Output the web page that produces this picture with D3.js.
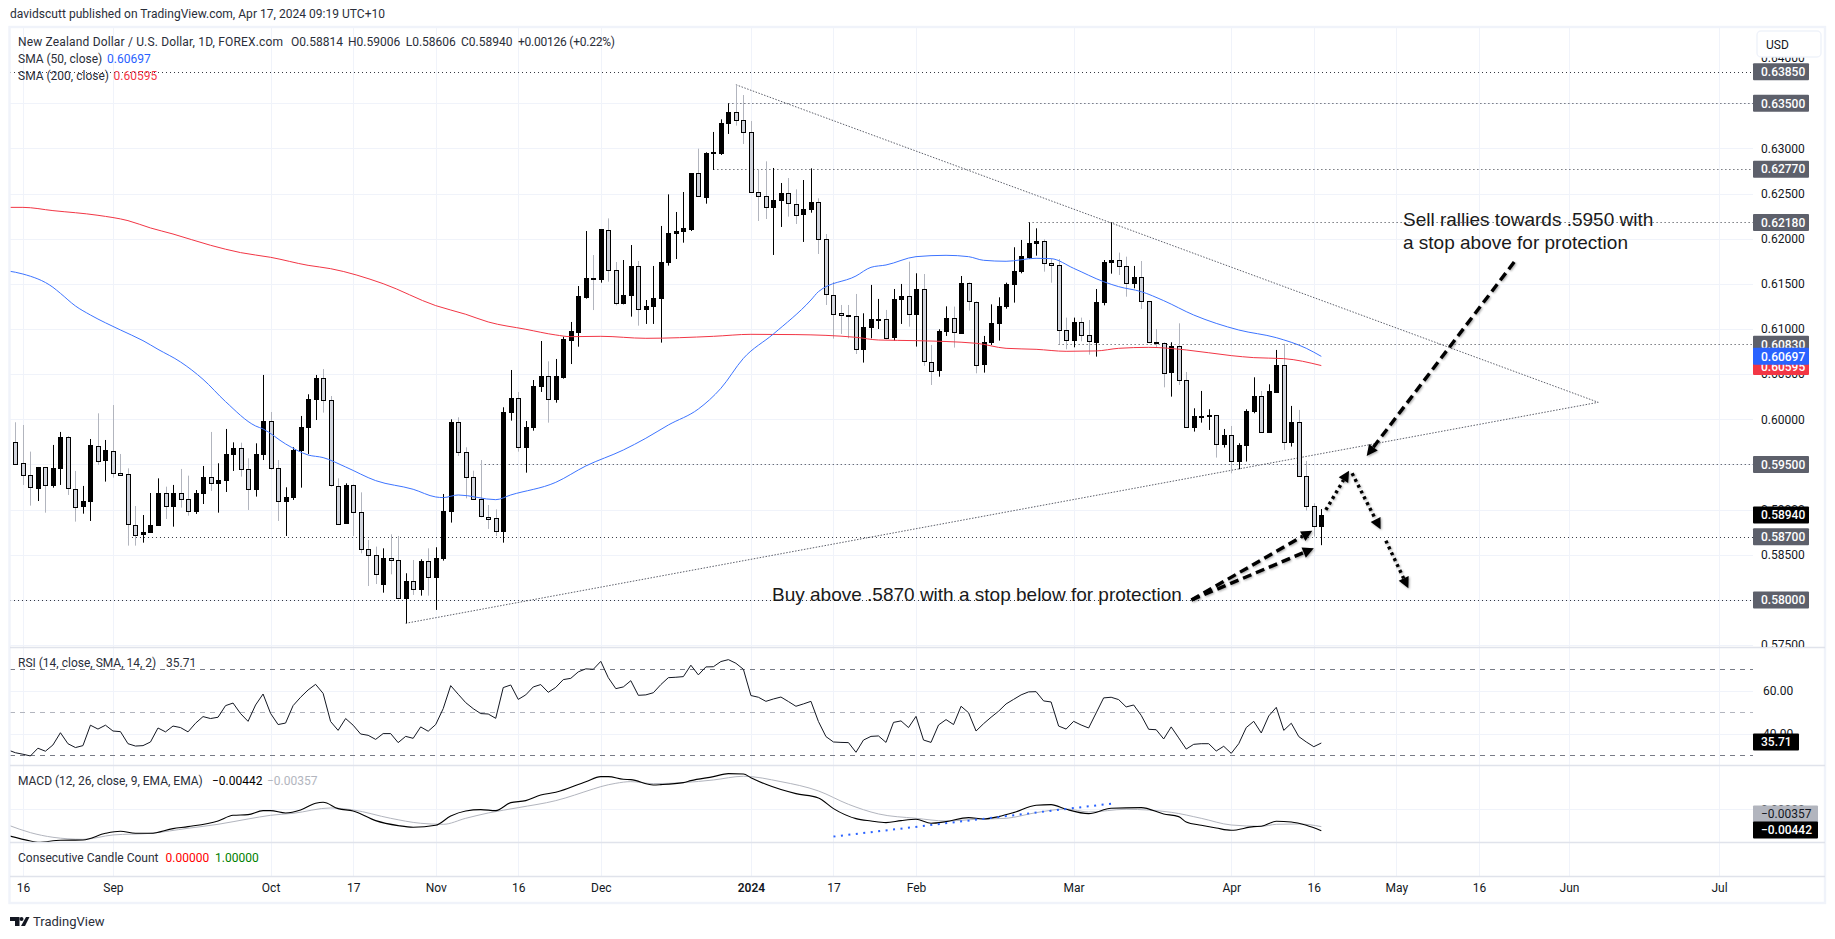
<!DOCTYPE html>
<html><head><meta charset="utf-8">
<script src="https://cdnjs.cloudflare.com/ajax/libs/d3/7.8.5/d3.min.js"></script>
<style>
html,body{margin:0;padding:0;background:#fff;overflow:hidden}
text{font-family:Roboto,"Open Sans",sans-serif;font-size:12px;fill:#131722}
.note{font-family:"Liberation Sans",Arial,sans-serif;font-size:19px;fill:#1a1a1a}
</style></head><body><svg id="c" width="1835" height="939"></svg>
<script>
// Prices are in units of 0.00001
const opens=[59752,59513,59380,59243,59468,59265,59453,59800,59232,59036,59088,59708,59546,59653,59409,59391,58833,58723,58749,58822,59180,59033,59180,59114,58977,59177,59358,59287,59321,59609,59679,59446,59221,59609,59978,59457,59092,59132,59656,59908,60218,60454,60210,59265,58848,59269,58970,58560,58494,58169,58461,58438,58014,58206,58114,58427,58247,58457,58977,59967,59634,59358,59114,58922,58904,58756,60074,60232,59686,59908,60362,60476,60218,60469,60882,60970,61358,61565,61550,62092,61650,61281,61369,61694,61214,61248,61336,61735,62056,62078,62108,62724,62466,62953,62949,63274,63399,63311,63178,62514,62469,62344,62421,62503,62388,62266,62322,62403,61993,61380,61174,61152,61141,60775,61015,61104,61107,60904,61325,61362,61159,61440,60639,60539,60971,61118,60956,61506,61303,60609,60849,61059,61248,61491,61635,61801,61945,61971,61727,61705,60986,60875,61074,60930,60856,61292,61735,61761,61694,61502,61572,61307,60856,60849,60517,60808,60432,59908,60030,60037,60045,59720,59823,59532,59709,60085,60255,59856,60307,60598,59742,59967,59369,59037,58814];
const highs=[59967,59937,59642,59472,59472,59716,59860,59815,59428,59262,59782,60066,59771,60158,59616,59457,59040,58940,59184,59346,59254,59273,59450,59376,59217,59483,59860,59513,59893,59745,59741,59568,59734,60491,60081,59549,59247,59690,60037,60277,60491,60557,60258,59346,59291,59280,59191,58664,58590,58571,58726,58708,58295,58442,58450,58571,58583,59173,60000,60022,59690,59431,59549,59051,59003,60133,60546,60303,59981,60435,60867,60642,60668,60915,61078,61476,62085,61819,62104,62225,61742,61764,61930,61753,61321,61698,62141,62491,62296,62517,62724,62997,62957,63182,63322,63499,63706,63591,63303,62761,62857,62783,62617,62672,62547,62650,62779,62447,62052,61521,61266,61266,61388,61174,61488,61333,61211,61443,61499,61746,61617,61609,60823,60997,61251,61248,61587,61517,61307,60923,61273,61351,61513,61905,61986,62181,62115,61993,61775,61775,61126,61126,61126,61100,61443,61764,62181,61846,61801,61698,61753,61307,61000,60853,60853,61063,60524,60122,60314,60111,60048,59893,59926,59735,60111,60465,60314,60388,60768,60835,60148,60104,59539,59070,59006];
const lows=[59494,59273,59044,59095,58966,59243,59273,59162,58867,58955,58874,59494,59310,59354,59376,58601,58601,58634,58745,58819,58896,58811,59022,58933,58952,59062,59206,58966,59195,59428,59365,58996,59144,59549,59439,58874,58708,59107,59243,59616,59992,60074,59254,58841,58844,58708,58516,58154,58176,58080,58283,58007,57741,58055,58047,58047,57889,58435,58856,59594,59125,59107,58915,58786,58708,58634,59985,59642,59409,59874,60303,59963,60184,60450,60612,60804,61336,61210,61513,61524,61262,61273,61137,61037,61056,61056,60849,61702,61775,61956,62085,62466,62388,62761,62927,63160,63252,63049,62514,62196,62218,61820,62130,62244,62163,61964,62288,61831,61266,60893,60945,60897,60723,60628,60897,61000,60886,60871,61056,61026,60805,60591,60380,60472,60923,60794,60945,61203,60509,60517,60823,60871,61225,61292,61617,61775,61812,61635,61513,60831,60775,60797,60864,60716,60694,61262,61613,61598,61358,61451,61222,60842,60794,60354,60251,60380,59908,59864,59963,59882,59576,59687,59402,59447,59532,60067,59856,59853,60307,59661,59698,59369,58989,58701,58606];
const closes=[59513,59380,59247,59472,59269,59457,59800,59236,59036,59092,59712,59546,59656,59413,59387,58837,58726,58749,58826,59180,59036,59180,59114,58977,59180,59358,59291,59324,59612,59679,59446,59225,59612,59978,59457,59092,59136,59656,59911,60221,60454,60206,59269,58848,59269,58970,58560,58494,58283,58461,58438,58018,58206,58117,58427,58250,58461,58981,59967,59634,59358,59114,58926,58900,58760,60077,60232,59690,59911,60365,60476,60221,60476,60886,60978,61366,61565,61550,62104,61650,61284,61373,61694,61218,61251,61340,61739,62060,62082,62115,62724,62466,62949,62960,63278,63399,63311,63178,62514,62469,62348,62425,62503,62388,62270,62325,62403,61993,61380,61174,61152,61137,60775,61019,61107,61111,60897,61329,61362,61159,61440,60642,60543,60975,61118,60960,61506,61307,60609,60853,61063,61251,61495,61639,61805,61953,61971,61727,61705,60986,60875,61074,60930,60860,61296,61739,61761,61694,61506,61572,61307,60853,60845,60521,60808,60432,59908,60034,60037,60045,59724,59823,59535,59712,60089,60255,59856,60310,60602,59746,59967,59369,59037,58815,58940];
// SMA readings: bar index, price
const sma50Idx=[-1,1,5,6,8,10,14,17,19,22,25,28,32,33,36,39,41,44,48,53,56,57,59,64,66,72,76,81,84,87,91,94,97,101,106,107,112,114,116,120,124,127,129,132,136,138,141,145,147,150,153,157,163,168,172,174];
const sma50Val=[.61643,.61609,.61462,.61395,.61255,.61155,.60989,.60871,.60775,.60635,.60443,.60196,.59926,.59893,.59727,.59605,.59576,.59472,.59321,.59225,.59140,.59133,.59162,.59110,.59162,.59302,.59483,.59660,.59790,.59937,.60114,.60343,.60675,.60945,.61321,.61414,.61587,.61683,.61709,.61801,.61816,.61801,.61761,.61750,.61783,.61779,.61672,.61524,.61469,.61414,.61314,.61155,.60989,.60904,.60786,.60697];
const sma200Idx=[-1,1,5,11,15,18,21,26,30,34,39,42,49,56,60,63,68,72,74,78,84,93,98,104,112,115,120,128,132,136,140,144,147,151,156,162,165,169,174];
const sma200Val=[.62347,.62347,.62311,.62259,.62200,.62119,.62052,.61927,.61846,.61794,.61705,.61668,.61502,.61259,.61163,.61078,.60997,.60934,.60915,.60919,.60897,.60919,.60941,.60938,.60908,.60878,.60871,.60842,.60786,.60775,.60753,.60757,.60786,.60797,.60768,.60705,.60683,.60672,.60595];
// RSI for bars -1..174
const rsiVal=[32.5,31.2,30.5,29.7,33.3,31.9,34.8,40.5,35.4,33.6,34.5,44.0,42.2,44.0,41.3,41.0,35.4,34.3,34.5,36.2,42.7,40.9,43.6,42.9,40.9,44.9,48.0,47.1,47.7,53.1,54.3,49.4,45.8,53.4,58.5,49.5,44.3,45.0,53.1,57.0,60.4,63.0,58.8,45.7,41.6,47.1,44.0,39.9,39.3,37.4,40.1,40.1,35.9,38.8,37.9,43.2,41.2,44.3,51.7,62.4,58.4,54.5,51.7,49.4,49.2,47.2,61.5,62.7,56.0,58.1,61.8,62.9,59.3,61.6,65.2,65.8,68.8,70.2,70.0,73.7,66.1,61.0,61.8,64.7,57.9,58.1,59.1,62.9,66.1,66.3,66.6,71.9,67.4,71.1,71.2,73.6,74.5,72.8,70.0,57.8,57.0,55.1,56.2,57.1,55.0,52.8,53.9,55.1,45.7,38.7,36.2,36.0,35.9,31.4,37.1,38.8,39.0,36.0,45.3,46.0,42.9,48.1,37.1,36.0,44.1,46.6,44.3,52.8,49.8,41.3,44.7,47.7,50.5,53.9,56.0,58.1,59.5,59.6,55.3,54.8,43.6,42.2,45.8,44.1,42.7,49.7,56.7,57.0,55.9,52.5,53.4,48.6,42.1,41.9,37.6,43.2,38.1,32.9,35.1,35.4,35.4,32.0,34.2,30.9,35.4,42.9,45.8,40.4,48.3,52.3,41.6,44.9,38.7,36.2,34.0,35.71];
// MACD readings: bar index, value
const macdIdx=[-1,2,3,6,9,12,14,16,18,21,23,27,29,31,33,34,36,38,40,41,43,45,48,51,53,56,58,60,62,64,66,68,70,72,76,78,79,81,82,85,86,89,90,93,95,97,98,100,104,107,109,112,114,116,118,120,122,124,127,129,131,133,136,138,140,143,146,150,153,155,156,158,160,162,165,166,168,170,172,174];
const macdVal=[-.00544,-.00654,-.00682,-.00640,-.00633,-.00496,-.00454,-.00496,-.00496,-.00399,-.00358,-.00241,-.00124,-.00110,-.00028,-.00028,-.00076,-.00014,.00124,.00145,.00014,-.00034,-.00234,-.00337,-.00372,-.00330,-.00138,-.00034,-.00007,-.00028,.00138,.00179,.00296,.00351,.00571,.00675,.00675,.00620,.00613,.00503,.00509,.00551,.00592,.00675,.00737,.00730,.00654,.00516,.00324,.00234,.00014,-.00193,-.00241,-.00275,-.00234,-.00207,-.00289,-.00255,-.00172,-.00200,-.00151,-.00069,.00083,.00096,0,-.00089,.00021,.00034,-.00096,-.00151,-.00262,-.00330,-.00386,-.00434,-.00358,-.00351,-.00248,-.00262,-.00330,-.00442];
const signalIdx=[-1,2,5,9,13,18,23,27,31,34,37,42,45,50,54,57,60,63,67,72,77,78,80,82,85,89,93,97,102,107,111,115,120,124,128,132,136,140,143,148,154,158,162,166,168,171,174];
const signalVal=[-.00324,-.00482,-.00578,-.00620,-.00530,-.00496,-.00392,-.00310,-.00200,-.00124,-.00083,.00028,-.00014,-.00186,-.00289,-.00310,-.00186,-.00076,.00034,.00179,.00420,.00468,.00537,.00571,.00530,.00551,.00606,.00682,.00571,.00379,.00103,-.00096,-.00186,-.00241,-.00207,-.00186,-.00069,.00007,-.00055,0,-.00062,-.00186,-.00324,-.00351,-.00310,-.00303,-.00357];
// Time axis
const tickIdx=[1,13,34,45,56,67,78,98,109,120,141,162,173,184,195,207,227];
const tickLabels=["16","Sep","Oct","17","Nov","16","Dec","2024","17","Feb","Mar","Apr","16","May","16","Jun","Jul"];
// Axis ticks
const priceTicks=[.575,.58,.585,.59,.595,.6,.605,.61,.615,.62,.625,.63,.635,.64];
const rsiTicks=[60,40];
// Horizontal levels and the bar where each starts
const levels=[.6385,.635,.6277,.6218,.6083,.595,.587,.58];
const levelStart=[-2,95,93,135,139,62,15,-2];
// Triangle and drawing annotations, [bar, price]
const triTop=[[96,.63705],[210.9,.60188]];
const triBottom=[[52,.57741],[210.9,.60188]];
const macdTrend=[[109,-.00564],[146.4,.00124]];
const dashedArrows=[[[199.7,.61742],[180.05,.59594]],[[156.7,.57999],[172.8,.58766]],[[156.7,.57999],[173,.58571]]];
const dottedArrows=[[[174.6,.58996],[177.7,.59431]],[[178.1,.59402],[181.9,.58782]],[[182.6,.58656],[185.6,.58128]]];

const svg=d3.select('#c');
const L=10,R=1753,FR=1825;
const x=d3.scaleLinear().domain([0,174]).range([15.4,1321.3]);
const y=d3.scaleLinear().domain([.575,.63]).range([645.05,148.4]);
const yR=d3.scaleLinear().domain([70,30]).range([669.3,755.3]);
const yM=d3.scaleLinear().domain([0,-.00442]).range([809.3,830.7]);
const P=v=>v/1e5;
const defs=svg.append('defs');
const clip=(id,a,b,c,d)=>defs.append('clipPath').attr('id',id).append('rect').attr('x',a).attr('y',b).attr('width',c-a).attr('height',d-b);
clip('cp',L,28,R,647); clip('cr',L,648,R,765); clip('cm',L,767,R,842); clip('ca',R,28,FR,647);

svg.append('text').attr('x',10).attr('y',18).text('davidscutt published on TradingView.com, Apr 17, 2024 09:19 UTC+10').attr('textLength',375).style('fill','#2a2e39');

// vertical grid
const grid=svg.append('g').attr('stroke','#f0f3fa').attr('stroke-width',1);
const xs=i=>Math.round(x(i))+.5;
grid.selectAll('.v').data(tickIdx).join('line').attr('x1',xs).attr('x2',xs).attr('y1',28).attr('y2',876);
const hgrid=(vals,sc)=>grid.append('g').selectAll('line').data(vals).join('line').attr('x1',L).attr('x2',R)
  .attr('y1',d=>Math.round(sc(d))+.5).attr('y2',d=>Math.round(sc(d))+.5);
hgrid(priceTicks.filter(d=>d<.64),y); hgrid(rsiTicks,yR); hgrid([0],yM);

// price levels
const pane=svg.append('g').attr('clip-path','url(#cp)');
pane.selectAll('.lvl').data(levels).join('line').attr('stroke','#131722').attr('stroke-width',1).attr('stroke-dasharray','1 3')
  .attr('x1',(d,i)=>levelStart[i]<0?L:x(levelStart[i])).attr('x2',R)
  .attr('y1',d=>Math.round(y(d))+.5).attr('y2',d=>Math.round(y(d))+.5).attr('opacity',.85);
const ln=d3.line().x(d=>x(d[0])).y(d=>y(d[1]));
[triTop,triBottom].forEach(t=>pane.append('path').attr('d',ln(t)).attr('fill','none').attr('stroke','#5d606b').attr('stroke-width',1).attr('stroke-dasharray','1.5 1.5'));

// candles
const idx=d3.range(opens.length);
const up=i=>closes[i]>=opens[i];
pane.append('g').selectAll('line').data(idx).join('line').attr('x1',xs).attr('x2',xs)
  .attr('y1',i=>y(P(highs[i]))).attr('y2',i=>y(P(lows[i])))
  .attr('stroke',i=>up(i)?'#000':'#b2b5be').attr('stroke-width',1);
pane.append('g').selectAll('rect').data(idx).join('rect')
  .attr('x',i=>xs(i)-2).attr('width',4)
  .attr('y',i=>Math.round(y(P(Math.max(opens[i],closes[i]))))+.5)
  .attr('height',i=>Math.max(1,Math.round(Math.abs(y(P(opens[i]))-y(P(closes[i]))))))
  .attr('fill',i=>up(i)?'#000':'#d1d4dc').attr('stroke','#000').attr('stroke-width',1);

// moving averages
const sm=d3.line().x(d=>x(d[0])).y(d=>y(d[1])).curve(d3.curveMonotoneX);
pane.append('path').attr('d',sm(d3.zip(sma200Idx,sma200Val))).attr('fill','none').attr('stroke','#f23645').attr('stroke-width',1);
pane.append('path').attr('d',sm(d3.zip(sma50Idx,sma50Val))).attr('fill','none').attr('stroke','#3d74ff').attr('stroke-width',1);

// RSI pane
const rp=svg.append('g').attr('clip-path','url(#cr)');
[[70,'#787b86'],[50,'#b2b5be'],[30,'#787b86']].forEach(([v,c])=>rp.append('line').attr('x1',L).attr('x2',R).attr('y1',Math.round(yR(v))+.5).attr('y2',Math.round(yR(v))+.5).attr('stroke',c).attr('stroke-dasharray','5 5'));
rp.append('path').attr('fill','none').attr('stroke','#131722').attr('stroke-width',1)
  .attr('d',d3.line().x((d,i)=>x(i-1)).y(d=>yR(d))(rsiVal));

// MACD pane
const mp=svg.append('g').attr('clip-path','url(#cm)');
const ml=d3.line().x(d=>x(d[0])).y(d=>yM(d[1])).curve(d3.curveMonotoneX);
mp.append('path').attr('fill','none').attr('stroke','#b2b5be').attr('stroke-width',1).attr('d',ml(d3.zip(signalIdx,signalVal)));
mp.append('path').attr('fill','none').attr('stroke','#000').attr('stroke-width',1.1).attr('d',ml(d3.zip(macdIdx,macdVal)));
mp.append('path').attr('fill','none').attr('stroke','#2962ff').attr('stroke-width',2).attr('stroke-dasharray','2 5.5').attr('d',d3.line().x(d=>x(d[0])).y(d=>yM(d[1]))(macdTrend));

// frame and pane separators
const fr=svg.append('g').attr('fill','none');
fr.append('rect').attr('x',9.5).attr('y',27).attr('width',FR-9.5).attr('height',876).attr('stroke','#f0f3fa').attr('stroke-width',2.4);
[[647.5],[765.5],[842.5],[876.5]].forEach(([v])=>fr.append('line').attr('x1',L).attr('x2',FR).attr('y1',v).attr('y2',v).attr('stroke','#e0e3eb').attr('stroke-width',1.4));

// axes
const axTxt=g=>{g.select('.domain').remove();g.selectAll('text').style('font-size','12px').style('fill','#131722');};
const pa=svg.append('g').attr('clip-path','url(#ca)').append('g').attr('transform',`translate(${R},0)`)
  .call(d3.axisRight(y).tickValues(priceTicks).tickFormat(d3.format('.5f')).tickSize(0).tickPadding(8)).call(axTxt);
svg.append('g').attr('transform',`translate(${R},0)`).call(d3.axisRight(yR).tickValues(rsiTicks).tickFormat(d3.format('.2f')).tickSize(0).tickPadding(10)).call(axTxt);
svg.append('g').attr('transform',`translate(${R},0)`).call(d3.axisRight(yM).tickValues([0]).tickFormat(d3.format('.5f')).tickSize(0).tickPadding(8)).call(axTxt);
svg.append('g').attr('transform','translate(0,883)').call(d3.axisBottom(x).tickValues(tickIdx).tickFormat((d,i)=>tickLabels[i]).tickSize(0).tickPadding(0)).call(axTxt)
  .selectAll('text').attr('dy','.71em').style('font-weight',(d,i)=>tickLabels[i]==='2024'?'600':'400');

// USD button
svg.append('rect').attr('x',1757).attr('y',31).attr('width',64).attr('height',26).attr('rx',4).attr('fill','#fff').attr('stroke','#f0f3fa').attr('stroke-width',1.5);
svg.append('text').attr('x',1766).attr('y',49).text('USD');

// axis value tags
const tag=(val,fmt,yy,bg,fg,w=56)=>{
  const g=svg.append('g');
  g.append('rect').attr('x',R).attr('y',yy-8.5).attr('width',w).attr('height',17).attr('rx',1).attr('fill',bg);
  g.append('text').attr('x',R+8).attr('y',yy+4.3).text(fmt(val)).style('fill',fg).style('font-weight',fg==='#fff'?'500':'400');
};
const f5=d3.format('.5f');
levels.forEach(v=>tag(v,f5,y(v),'#5d606b','#fff'));
tag(.60595,f5,y(.60595)+1,'#f23645','#fff');
tag(.60697,f5,y(.60697),'#2962ff','#fff');
tag(P(closes[174]),f5,y(P(closes[174])),'#000','#fff');
tag(rsiVal[rsiVal.length-1],d3.format('.2f'),742,'#000','#fff',46);
const fm=v=>d3.format('.5f')(v).replace('-','\u2212');
tag(signalVal[signalVal.length-1],fm,814,'#b2b5be','#131722',65);
tag(macdVal[macdVal.length-1],fm,830,'#000','#fff',65);

// legends
const seg=(xx,yy,t,c='#2a2e39')=>svg.append('text').attr('x',xx).attr('y',yy).text(t).style('fill',c);
seg(18,46,'New Zealand Dollar / U.S. Dollar, 1D, FOREX.com').attr('textLength',265);
seg(291,46,'O0.58814');seg(348,46,'H0.59006');seg(405.7,46,'L0.58606');seg(461,46,'C0.58940');seg(518,46,'+0.00126 (+0.22%)').attr('textLength',97);
seg(18,62.5,'SMA (50, close)');seg(107,62.5,'0.60697','#2962ff');
seg(18,80,'SMA (200, close)');seg(113.5,80,'0.60595','#f23645');
seg(18,666.5,'RSI (14, close, SMA, 14, 2)');seg(166,666.5,'35.71');
seg(18,785,'MACD (12, 26, close, 9, EMA, EMA)');seg(212,785,'\u22120.00442','#000');seg(267,785,'\u22120.00357','#b2b5be');
seg(18,862,'Consecutive Candle Count');seg(165.5,862,'0.00000','#ff0000');seg(215,862,'1.00000','#008000');

// notes
const nt=(xx,yy,t)=>svg.append('text').attr('class','note').attr('x',xx).attr('y',yy).text(t);
nt(1403,225.5,'Sell rallies towards .5950 with');
nt(1403,248.5,'a stop above for protection');
nt(772,601,'Buy above .5870 with a stop below for protection');

// hand-drawn arrows
const ar=svg.append('g').style('filter','drop-shadow(1px 1px 1px rgba(0,0,0,.35))');
const arrow=(a,dash)=>{
  const [x1,y1,x2,y2]=[x(a[0][0]),y(a[0][1]),x(a[1][0]),y(a[1][1])];
  const t=Math.atan2(y2-y1,x2-x1),len=11,hw=5.5;
  const bx=x2-len*Math.cos(t),by=y2-len*Math.sin(t);
  ar.append('line').attr('x1',x1).attr('y1',y1).attr('x2',bx).attr('y2',by).attr('stroke','#000').attr('stroke-width',3.4).attr('stroke-dasharray',dash);
  ar.append('polygon').attr('fill','#000').attr('points',[[x2,y2],[bx-hw*Math.sin(t),by+hw*Math.cos(t)],[bx+hw*Math.sin(t),by-hw*Math.cos(t)]].join(' '));
};
dashedArrows.forEach(a=>arrow(a,'9 5'));
dottedArrows.forEach(a=>arrow(a,'3 3.5'));

// footer
svg.append('path').attr('d','M10 917h9.5v9h-4.5v-5h-5z').attr('fill','#131722');
svg.append('circle').attr('cx',21.5).attr('cy',919).attr('r',2).attr('fill','#131722');
svg.append('path').attr('d','M26 917h3.5l-4.5 9h-4z').attr('fill','#131722');
svg.append('text').attr('x',33).attr('y',926).text('TradingView').style('font-size','13px').style('fill','#2a2e39');
</script></body></html>
